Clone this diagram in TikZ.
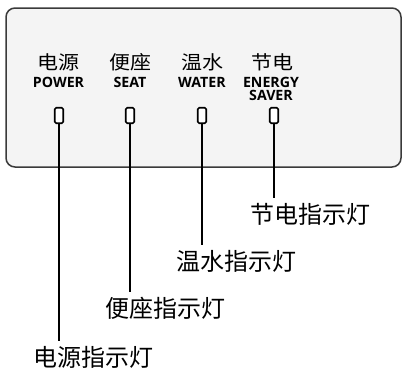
\documentclass[tikz,border=0pt]{standalone}
\usepackage{fontspec}
\setmainfont{Open Sans}
\newfontfamily\cjk{Noto Sans CJK SC}
\definecolor{panelfill}{HTML}{F4F4F4}
\definecolor{paneledge}{HTML}{3A3A3A}
\tikzset{
  panel/.style={draw=paneledge, fill=panelfill, line width=1.5pt, rounded corners=9pt},
  led/.style={draw=black, fill=white, line width=1.6pt, rounded corners=1.5pt,
    minimum width=8.5pt, minimum height=15.5pt, inner sep=0pt},
  toplab/.style={font=\cjk\fontsize{21}{21}\selectfont, inner sep=0pt, yscale=0.9},
  enlab/.style={font=\bfseries\fontsize{14.2}{13}\selectfont, inner sep=0pt, align=center},
  lab/.style={font=\cjk\fontsize{24}{24}\selectfont, inner xsep=0pt, inner ysep=5pt,
    text height=20pt, text depth=4pt},
  conn/.style={draw=black, line width=1.1pt}
}
\begin{document}
\begin{tikzpicture}[x=1pt,y=-1pt]
\useasboundingbox (0,0) rectangle (402,370);
\draw[panel] (6,8) rectangle (401,167);
% top labels
\node[toplab] (t1) at (58.5,62) {电源};
\node[toplab] (t2) at (130,62) {便座};
\node[toplab] (t3) at (202,62) {温水};
\node[toplab] (t4) at (272,62) {节电};
\node[enlab] (e1) at (58.5,82) {POWER};
\node[enlab] (e2) at (130,82) {SEAT};
\node[enlab] (e3) at (202,82) {WATER};
\node[enlab] (e4) at (271,88.5) {ENERGY\\SAVER};
% LEDs
\node[led] (d1) at (59,115.5) {};
\node[led] (d2) at (130,115.5) {};
\node[led] (d3) at (202,115.5) {};
\node[led] (d4) at (274,115.5) {};
% bottom labels
\node[lab] (l4) at (310.5,215) {节电指示灯};
\node[lab] (l3) at (236,262) {温水指示灯};
\node[lab] (l2) at (165,309) {便座指示灯};
\node[lab] (l1) at (93.5,358) {电源指示灯};
% connectors
\draw[conn] (d1.south) -- (d1.south |- l1.north);
\draw[conn] (d2.south) -- (d2.south |- l2.north);
\draw[conn] (d3.south) -- (d3.south |- l3.north);
\draw[conn] (d4.south) -- (d4.south |- l4.north);
\end{tikzpicture}
\end{document}
